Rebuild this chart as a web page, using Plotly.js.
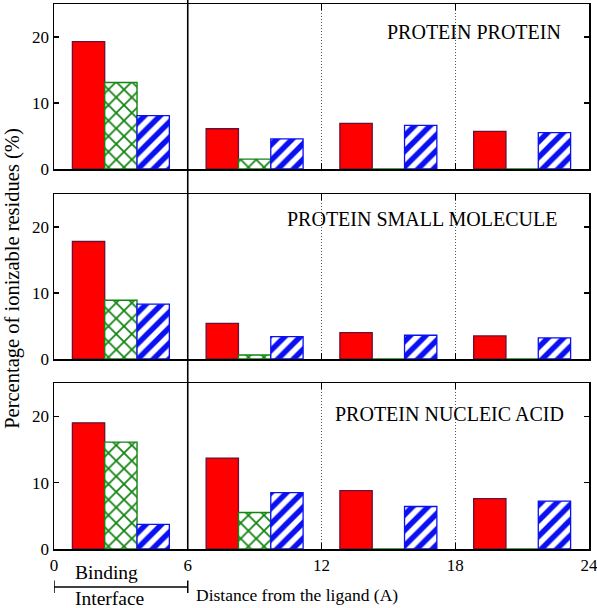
<!DOCTYPE html>
<html>
<head>
<meta charset="utf-8">
<script src="https://cdn.plot.ly/plotly-3.0.1.min.js"></script>
<style>html,body{margin:0;padding:0;background:#fff;}#chart{width:597px;height:608px;}</style>
</head>
<body>
<div id="chart"></div>
<script>
// Group centres (distance shells, Angstrom)
var groupCenters = [3, 9, 15, 21];
var xTickVals = [0, 6, 12, 18, 24];
var yTickVals = [0, 10, 20];

// PROTEIN PROTEIN
var ppRed   = [19.3, 6.1, 6.9, 5.7];
var ppGreen = [13.1, 1.5, 0, 0];
var ppBlue  = [8.1, 4.55, 6.6, 5.5];
// PROTEIN SMALL MOLECULE
var psmRed   = [17.8, 5.4, 4.0, 3.5];
var psmGreen = [8.9, 0.6, 0, 0];
var psmBlue  = [8.3, 3.4, 3.6, 3.2];
// PROTEIN NUCLEIC ACID
var pnaRed   = [19.0, 13.7, 8.8, 7.6];
var pnaGreen = [16.1, 5.5, 0, 0];
var pnaBlue  = [3.7, 8.5, 6.4, 7.2];

var panelNames = ['PROTEIN PROTEIN', 'PROTEIN SMALL MOLECULE', 'PROTEIN NUCLEIC ACID'];
var panelData = [[ppRed, ppGreen, ppBlue], [psmRed, psmGreen, psmBlue], [pnaRed, pnaGreen, pnaBlue]];

var RED = '#ff0000', RED_LINE = '#6a1035';
var GREEN = '#138513';
var BLUE = '#0a10f0';
var FONT = 'Liberation Serif, Times New Roman, serif';

function styleFor(k) {
  if (k === 0) return {color: RED, line: {color: RED_LINE, width: 1.3}};
  if (k === 1) return {color: 'white', line: {color: GREEN, width: 1.4},
    pattern: {shape: 'x', fgcolor: GREEN, bgcolor: 'white', size: 11, solidity: 0.3, fillmode: 'replace'}};
  return {color: 'white', line: {color: BLUE, width: 1.3},
    pattern: {shape: '/', fgcolor: BLUE, bgcolor: 'white', size: 11, solidity: 0.5, fillmode: 'replace'}};
}

var traces = [];
panelData.forEach(function (series, p) {
  var sfx = p === 0 ? '' : String(p + 1);
  series.forEach(function (vals, k) {
    traces.push({
      type: 'bar', x: groupCenters, y: vals,
      xaxis: 'x' + sfx, yaxis: 'y' + sfx,
      marker: styleFor(k), showlegend: false, hoverinfo: 'skip'
    });
  });
});

var plotTop = 4, plotBot = 549, H = plotBot - plotTop;
function py(pix) { return (plotBot - pix) / H; }
var domains = [[py(169), 1], [py(359), py(194)], [0, py(383)]];

function xAxis(p) {
  return {
    domain: [0, 1], range: [0, 24], tickvals: xTickVals,
    anchor: 'y' + (p === 0 ? '' : String(p + 1)),
    matches: p === 0 ? undefined : 'x',
    showticklabels: p === 2, ticklabeloverflow: 'allow',
    ticks: 'inside', ticklen: 6, tickwidth: 1.3, tickcolor: 'black',
    showline: true, linecolor: 'black', linewidth: 1.5, mirror: 'ticks',
    showgrid: true, gridcolor: '#555', griddash: '1px,2px', gridwidth: 1,
    zeroline: false,
    tickfont: {family: FONT, size: 17, color: 'black'}
  };
}
function yAxis(p) {
  return {
    domain: domains[p], range: [0, 25], tickvals: yTickVals,
    anchor: 'x' + (p === 0 ? '' : String(p + 1)),
    ticks: 'inside', ticklen: 5, tickwidth: 1.3, tickcolor: 'black',
    showline: true, linecolor: 'black', linewidth: 1.5, mirror: 'ticks',
    showgrid: false, zeroline: false,
    tickfont: {family: FONT, size: 17, color: 'black'}
  };
}

var annFont = {family: FONT, size: 20, color: 'black'};
var labelPos = [[22.85, 20.8], [22.65, 21.2], [22.95, 20.4]];
var annotations = panelNames.map(function (t, p) {
  var sfx = p === 0 ? '' : String(p + 1);
  return {text: t, xref: 'x' + sfx, yref: 'y' + sfx, x: labelPos[p][0], y: labelPos[p][1],
    xanchor: 'right', yanchor: 'middle', showarrow: false, font: annFont};
});
annotations.push(
  {text: 'Percentage of ionizable residues (%)', xref: 'paper', yref: 'paper', x: -0.077, y: py(278),
   xanchor: 'center', yanchor: 'middle', textangle: -90, showarrow: false, font: {family: FONT, size: 20.5, color: 'black'}},
  {text: 'Distance from the ligand (A)', xref: 'x3', yref: 'paper', x: 10.9, y: py(595),
   xanchor: 'center', yanchor: 'middle', showarrow: false, font: {family: FONT, size: 17.5, color: 'black'}},
  {text: 'Binding', xref: 'x3', yref: 'paper', x: 2.37, y: py(572),
   xanchor: 'center', yanchor: 'middle', showarrow: false, font: {family: FONT, size: 19.5, color: 'black'}},
  {text: 'Interface', xref: 'x3', yref: 'paper', x: 2.5, y: py(598),
   xanchor: 'center', yanchor: 'middle', showarrow: false, font: {family: FONT, size: 19.5, color: 'black'}}
);

var shapes = [
  {type: 'line', xref: 'x3', yref: 'paper', x0: 6, x1: 6, y0: 0, y1: py(0), line: {color: 'black', width: 1.6}, layer: 'above'},
  {type: 'line', xref: 'x3', yref: 'paper', x0: 0, x1: 6, y0: py(587), y1: py(587), line: {color: 'black', width: 1.5}},
  {type: 'line', xref: 'x3', yref: 'paper', x0: 0, x1: 0, y0: py(580.5), y1: py(593), line: {color: 'black', width: 1.5}},
  {type: 'line', xref: 'x3', yref: 'paper', x0: 6, x1: 6, y0: py(580.5), y1: py(593), line: {color: 'black', width: 1.5}}
];

var layout = {
  width: 597, height: 608,
  margin: {l: 54, r: 8, t: plotTop, b: 608 - plotBot, pad: 0},
  paper_bgcolor: 'white', plot_bgcolor: 'white',
  barmode: 'group', bargap: 0.275, bargroupgap: 0,
  xaxis: xAxis(0), xaxis2: xAxis(1), xaxis3: xAxis(2),
  yaxis: yAxis(0), yaxis2: yAxis(1), yaxis3: yAxis(2),
  annotations: annotations, shapes: shapes,
  font: {family: FONT, color: 'black'}
};

Plotly.newPlot('chart', traces, layout, {staticPlot: true, displayModeBar: false});
</script>
</body>
</html>
